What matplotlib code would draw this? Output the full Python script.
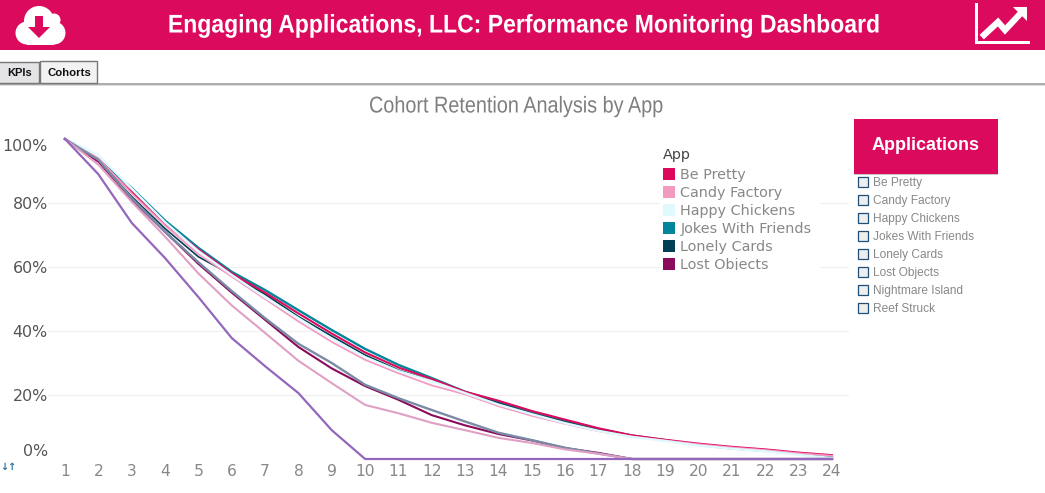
import matplotlib
matplotlib.use("Agg")
import matplotlib.pyplot as plt
import matplotlib.patheffects as pe
from matplotlib.patches import Rectangle, Circle, Polygon
from matplotlib.transforms import Affine2D, Bbox, TransformedBbox

months = list(range(1, 25))

be_pretty = [100, 93, 83.5, 73.5, 65.5, 58, 52, 45.5, 39.2, 33.3, 28.6, 25, 21, 18.2, 15, 12.3, 9.6, 7.4, 6, 4.8, 3.8, 3, 2, 1.2]
candy_factory = [100, 94, 83, 73, 64, 57, 50, 43, 36.6, 31, 26.8, 23, 20.2, 16.5, 13.5, 11, 8.7, 7, 5.8, 4.6, 3.6, 2.8, 1.8, 1]
happy_chickens = [100, 95, 84.5, 74, 65, 57.5, 50.5, 44, 37.5, 31.8, 27.5, 24.3, 20.6, 17, 14, 11.2, 8.8, 6.9, 5.6, 4.2, 3.2, 2.4, 1.3, 0.3]
jokes_with_friends = [100, 93.5, 84.7, 74.5, 66, 58.5, 52.8, 46.5, 40.3, 34.4, 29.4, 25.3, 21, 17.9, 14.8, 12, 9.4, 7.3, 5.9, 4.4, 3.3, 2.6, 1.6, 0.5]
lonely_cards = [100, 93, 82, 72, 63.2, 57.5, 51.5, 44.5, 38.4, 32.5, 27.8, 24.5, 20.8, 17.5, 14.3, 11.6, 9.1, 7.1, 5.8, 4.4, 3.3, 2.5, 1.5, 0.4]
lost_objects = [100, 93, 81, 71, 61, 52, 43.5, 35, 28.3, 22.8, 18.5, 13.7, 10.5, 7.8, 5.8, 3.4, 1.9, 0, 0, 0, 0, 0, 0, 0]
nightmare_island = [100, 93.5, 81.5, 71, 61.5, 52.5, 44, 36, 30, 23.2, 19, 15.3, 11.7, 8.2, 5.9, 3.5, 1.7, 0, 0, 0, 0, 0, 0, 0]
unlisted_app = [100, 92, 80.4, 69.5, 58, 48, 39.4, 30.7, 23.7, 16.9, 14.3, 11.3, 9, 6.6, 5, 3, 1.6, 0, 0, 0, 0, 0, 0, 0]
reef_struck = [100, 89, 73.8, 62.8, 50.6, 37.8, 29, 20.6, 9, 0, 0, 0, 0, 0, 0, 0, 0, 0, 0, 0, 0, 0, 0, 0]

# back to front, as the overlaps show in the reference
draw_order = [(jokes_with_friends, "#00859b", 1.7), (lonely_cards, "#003f54", 1.2), (be_pretty, "#dc0a5c", 1.5),
              (candy_factory, "#f49ac1", 1.3), (happy_chickens, "#e0f9fd", 1.7), (lost_objects, "#8b0a5b", 1.5),
              (nightmare_island, "#7a8ba5", 1.7), (unlisted_app, "#e0a0c4", 1.5), (reef_struck, "#9467bd", 1.6)]

legend_names = ["Be Pretty", "Candy Factory", "Happy Chickens", "Jokes With Friends", "Lonely Cards", "Lost Objects"]
legend_colors = ["#dc0a5c", "#f49ac1", "#e0f9fd", "#00859b", "#003f54", "#8b0a5b"]
filter_names = ["Be Pretty", "Candy Factory", "Happy Chickens", "Jokes With Friends",
                "Lonely Cards", "Lost Objects", "Nightmare Island", "Reef Struck"]
y_ticks = [0, 20, 40, 60, 80, 100]
y_labels = ["0%", "20%", "40%", "60%", "80%", "100%"]

W, H = 1045, 493
CRIMSON = "#dc0a5c"
ARIAL = "Liberation Sans"


class Squeeze(pe.AbstractPathEffect):
    """Narrows a text around a centre x, no condensed font is installed."""

    def __init__(self, factor, center_px):
        super().__init__()
        self.factor = factor
        self.center_px = center_px

    def draw_path(self, renderer, gc, tpath, affine, rgbFace=None):
        squeeze = Affine2D().translate(-self.center_px, 0).scale(self.factor, 1).translate(self.center_px, 0)
        renderer.draw_path(gc, tpath, affine + squeeze, rgbFace)


fig = plt.figure(figsize=(W / 100, H / 100), dpi=100)

# page furniture in pixel coordinates, above the chart so the legend hides the grid
page = fig.add_axes([0, 0, 1, 1], zorder=2)
page.set_xlim(0, W)
page.set_ylim(H, 0)
page.axis("off")

page.add_patch(Rectangle((0, 0), W, 50, color=CRIMSON, lw=0))
page.text(523.5, 25.5, "Engaging Applications, LLC: Performance Monitoring Dashboard", color="white",
          fontsize=18.4, fontweight="bold", family=ARIAL, ha="center", va="center",
          path_effects=[Squeeze(0.9, 523.5)])

# cloud icon
for cx, cy, r in [(39, 21, 15), (27, 33, 11.5), (54, 33, 11.5), (54, 20, 6.5)]:
    page.add_patch(Circle((cx, cy), r, color="white", lw=0))
page.add_patch(Rectangle((27, 28), 27, 16.5, color="white", lw=0))
page.add_patch(Polygon([(35, 16), (43, 16), (43, 27), (50, 27), (39, 38), (28, 27), (35, 27)], color=CRIMSON, lw=0))

# chart icon
page.add_patch(Rectangle((975, 3), 3, 41, color="white", lw=0))
page.add_patch(Rectangle((975, 41), 55, 3, color="white", lw=0))
page.plot([984, 998, 1005, 1020], [35, 22, 30, 14], color="white", lw=4.5, solid_joinstyle="miter")
page.add_patch(Polygon([(1013, 7), (1027, 7), (1027, 21)], color="white", lw=0))

# tabs
page.add_patch(Rectangle((0, 83), W, 1.5, color="#adadad", lw=0))
page.add_patch(Rectangle((0, 84.5), W, 1.5, color="#dcdcdc", lw=0))
page.add_patch(Rectangle((-2, 62), 41, 21, fc="#e4e4e6", ec="#777777", lw=1))
page.add_patch(Rectangle((39.5, 61), 57.5, 22, fc="#f2f2f2", ec="#777777", lw=1))
page.text(7, 72.5, "KPIs", fontsize=8, fontweight="bold", family=ARIAL, color="#111111", va="center")
page.text(47, 72.5, "Cohorts", fontsize=8.2, fontweight="bold", family=ARIAL, color="#111111", va="center")

page.text(516, 106, "Cohort Retention Analysis by App", color="#7f7f7f", fontsize=16.5,
          family=ARIAL, ha="center", va="center", path_effects=[Squeeze(0.865, 516)])
page.text(0, 467, "↓↑", color="#2a6f9f", fontsize=7, fontweight="bold", va="center")

# legend, its bottom row is cut off by the box
page.add_patch(Rectangle((660, 145), 160, 125, color="white", lw=0))
legend_clip = TransformedBbox(Bbox([[655, 140], [830, 270]]), page.transData)
page.text(663, 155, "App", color="#444444", fontsize=10.4, va="center")
for i, name in enumerate(legend_names):
    y = 175 + 18 * i
    page.add_patch(Rectangle((663, y - 7), 12, 12, color=legend_colors[i], lw=0))
    label = page.text(680.5, y, name, color="#888888", fontsize=10.4, va="center", clip_on=True)
    label.set_clip_box(legend_clip)

# filter panel
page.add_patch(Rectangle((854, 119), 144, 55, color=CRIMSON, lw=0))
page.add_patch(Rectangle((854, 174), 144, 1, color="#c8c8c8", lw=0))
page.text(926, 145, "Applications", color="white", fontsize=13, fontweight="bold",
          family=ARIAL, ha="center", va="center")
for i, name in enumerate(filter_names):
    y = 183 + 18 * i
    page.add_patch(Rectangle((858.2, y - 6), 10, 10, fc="#eeeeee", ec="#1f4e79", lw=0.9))
    page.text(873, y, name, color="#888888", fontsize=8.6, family=ARIAL, va="center")

# chart
left, right = 48.3, 848.7
top, bottom = 132.6, 462.2
ax = fig.add_axes([left / W, 1 - bottom / H, (right - left) / W, (bottom - top) / H], zorder=1)
ax.patch.set_alpha(0)
for s in ax.spines.values():
    s.set_visible(False)

for values, color, width in draw_order:
    ax.plot(months, values, color=color, lw=width, clip_on=False)

ax.set_xlim(0.5, 24.5)
ax.set_ylim(-1, 102)
ax.set_xticks(months)
ax.set_yticks(y_ticks)
ax.set_yticklabels(y_labels)
ax.tick_params(axis="x", length=0, pad=1.5, labelsize=11.2, labelcolor="#888888")
ax.tick_params(axis="y", length=0, pad=0.4, labelsize=11.4, labelcolor="#555555")

ax.grid(True, axis="y", color="#f0f0f0", lw=0.9)
ax.set_axisbelow(True)
ax.yaxis.get_gridlines()[0].set_visible(False)
ax.yaxis.get_gridlines()[-1].set_visible(False)

# first and last y labels sit inside the range
ax.get_yticklabels()[0].set_va("bottom")
ax.get_yticklabels()[-1].set_va("top")

fig.savefig("out.png", dpi=100)
